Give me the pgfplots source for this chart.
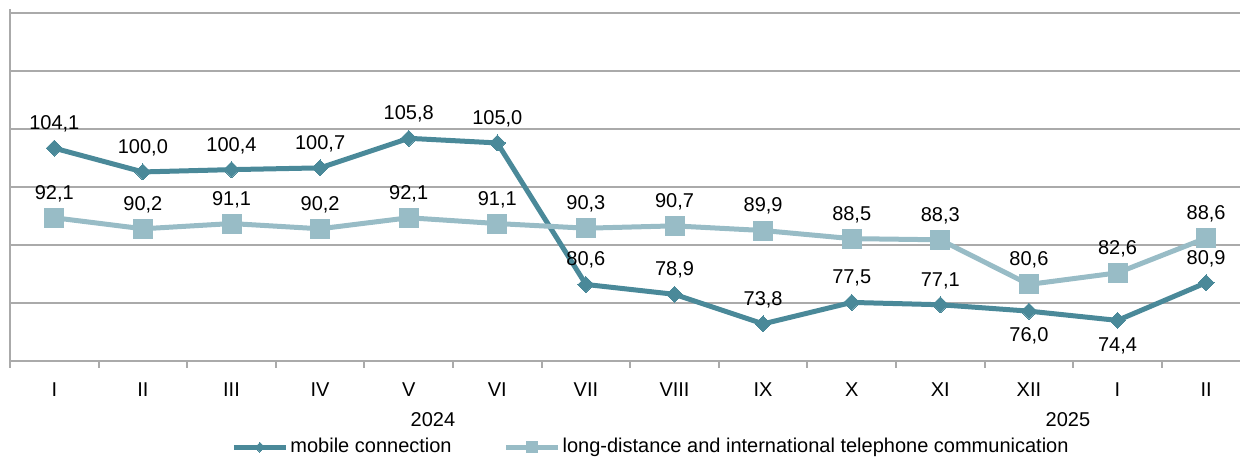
\documentclass[border=0pt]{standalone}
\usepackage{fontspec}
\setmainfont{Liberation Sans}
\usepackage{pgfplots}
\usepackage{pgfplotstable}
\pgfplotsset{compat=1.18}
\definecolor{mob}{RGB}{74,137,153}
\definecolor{ld}{RGB}{152,188,198}
\definecolor{gridc}{RGB}{170,170,170}

\pgfplotstableread{
x y dy
0 104.1 8
1 100.0 8
2 100.4 8
3 100.7 8
4 105.8 8
5 105.0 8
6 80.6 8
7 78.9 8
8 73.8 8
9 77.5 8
10 77.1 8
11 76.0 -16.6
12 74.4 -16.6
13 80.9 8
}\mobile

\pgfplotstableread{
x y dy
0 92.1 8
1 90.2 8
2 91.1 8
3 90.2 8
4 92.1 8
5 91.1 8
6 90.3 8
7 90.7 8
8 89.9 8
9 88.5 8
10 88.3 8
11 80.6 8
12 82.6 8
13 88.6 8
}\longdist

\begin{document}
\begin{tikzpicture}
\begin{axis}[name=ax, scale only axis, width=620.2pt, height=176pt,
  clip=false,
  xmin=-0.5, xmax=13.5, ymin=67.4, ymax=128.1,
  axis x line*=bottom, axis y line*=left,
  axis line style={gridc, line width=1pt, -},
  xtick={0,...,13},
  xticklabels={I,II,III,IV,V,VI,VII,VIII,IX,X,XI,XII,I,II},
  major x tick style={draw=none},
  minor xtick={-0.5,0.5,...,13.5},
  minor x tick style={gridc, line width=1pt},
  minor tick length=3.5pt, tick align=outside,
  ytick={67.4,77.4,87.4,97.4,107.4,117.4,127.4},
  yticklabels={}, ytick style={draw=none},
  ymajorgrids, grid style={gridc, line width=1pt},
  xticklabel style={yshift=-3pt, font=\fontsize{10pt}{12pt}\selectfont},
  nodes near coords={\pgfmathprintnumber{\pgfplotspointmeta}},
  every node near coord/.append style={font=\fontsize{10pt}{12pt}\selectfont, text=black, inner sep=0pt, yshift=\dy pt},
  /pgf/number format/fixed, /pgf/number format/fixed zerofill,
  /pgf/number format/precision=1, /pgf/number format/use comma,
  /pgf/number format/assume math mode=true,
  legend style={at={(0.1782,-0.245)}, anchor=west, draw=none, fill=none,
    inner sep=0pt, font=\fontsize{10pt}{12pt}\selectfont,
    /tikz/every even column/.append style={column sep=25pt},
    nodes={inner sep=1pt}},
  legend columns=2, legend cell align=left,
  legend image code/.code={\draw[mark repeat=2, mark phase=2, #1, /tikz/every mark/.append style={scale=0.6}] plot coordinates {(0pt,0pt) (13pt,0pt) (26pt,0pt)};},
]
\addplot[mob, line width=2.5pt, line join=round, mark=square*, mark size=2.83pt,
  mark options={rotate=45, solid, fill=mob, draw=mob, line width=0pt},
  visualization depends on={\thisrow{dy}\as\dy}]
  table[x=x, y=y] {\mobile};
\addlegendentry{mobile connection}
\addplot[ld, line width=2.5pt, line join=round, mark=square*, mark size=4.75pt,
  mark options={solid, fill=ld, draw=ld, line width=0pt},
  visualization depends on={\thisrow{dy}\as\dy}]
  table[x=x, y=y] {\longdist};
\addlegendentry{long-distance and international telephone communication}
\node[font=\fontsize{10pt}{12pt}\selectfont, yshift=-29.5pt] at (axis cs:4.274,67.4) {2024};
\node[font=\fontsize{10pt}{12pt}\selectfont, yshift=-29.5pt] at (axis cs:11.44,67.4) {2025};
\end{axis}
\pgfresetboundingbox
\path[use as bounding box, shift={(ax.south west)}] (-5pt,-49pt) rectangle (615pt,180.5pt);
\end{tikzpicture}
\end{document}
